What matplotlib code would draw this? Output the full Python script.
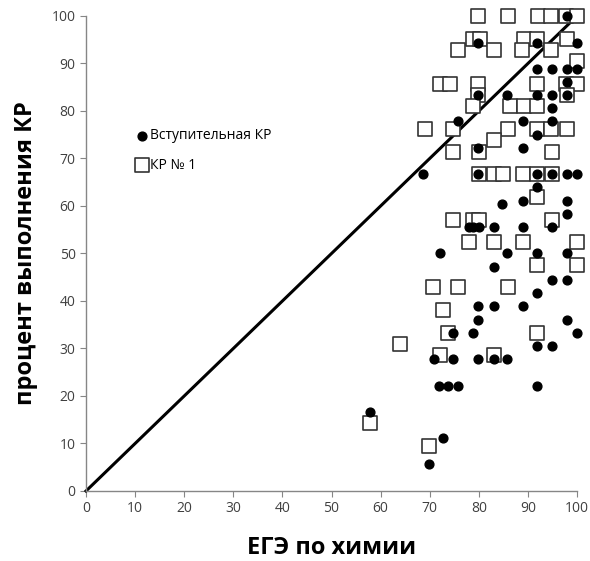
import matplotlib
matplotlib.use('Agg')
import matplotlib.pyplot as plt

plt.rcParams['font.family'] = ['Open Sans', 'DejaVu Sans']

# Вступительная КР (circles)
entry_x = [97.9, 79.8, 91.8, 99.9,
           91.8, 95.0, 97.9, 99.9,
           97.9,
           79.8, 85.7, 91.8, 95.0, 97.9,
           95.0,
           75.8, 88.9, 95.0,
           91.8,
           79.8, 88.9,
           68.7, 79.8, 91.8, 95.0, 97.9, 99.9,
           91.8,
           88.9, 84.8, 97.9,
           97.9,
           77.9, 78.9, 80.0, 83.0, 88.9, 95.0,
           72.0, 85.7, 91.8, 97.9,
           83.0,
           95.0, 97.9,
           91.8,
           79.8, 83.0, 88.9,
           79.8, 97.9,
           74.8, 78.9, 99.9,
           91.8, 95.0,
           70.9, 74.8, 79.8, 83.0, 85.7,
           71.8, 73.8, 75.7, 91.9,
           57.8, 72.8, 69.9]
entry_y = [100.0, 94.4, 94.4, 94.4,
           88.9, 88.9, 88.9, 88.9,
           86.1,
           83.3, 83.3, 83.3, 83.3, 83.3,
           80.6,
           77.8, 77.8, 77.8,
           75.0,
           72.2, 72.2,
           66.7, 66.7, 66.7, 66.7, 66.7, 66.7,
           63.9,
           61.1, 60.4, 61.1,
           58.3,
           55.6, 55.6, 55.6, 55.6, 55.6, 55.6,
           50.0, 50.0, 50.0, 50.0,
           47.2,
           44.4, 44.4,
           41.7,
           38.9, 38.9, 38.9,
           36.1, 36.1,
           33.3, 33.3, 33.3,
           30.6, 30.6,
           27.8, 27.8, 27.8, 27.8, 27.8,
           22.2, 22.2, 22.2, 22.2,
           16.7, 11.1, 5.6]

# КР № 1 (squares)
kr1_x = [79.9, 85.9, 92.0, 94.8, 97.7, 100.0,
         78.9, 80.2, 89.1, 91.8, 97.9,
         75.8, 83.0, 88.7, 94.8,
         99.9,
         72.1, 74.1, 79.9, 91.9, 97.7, 99.9,
         79.9, 97.9,
         78.9, 86.3, 89.2, 91.8,
         69.0, 74.8, 86.0, 91.8, 94.8, 97.9,
         83.0,
         74.8, 80.0, 95.0,
         80.0, 83.0, 85.0, 88.9, 91.8, 95.0,
         91.8,
         74.8, 78.9, 80.0, 95.0,
         77.9, 83.0, 88.9, 99.9,
         91.8, 99.9,
         70.7, 75.8, 85.9,
         72.8,
         73.8, 91.8,
         64.0,
         72.0, 83.0,
         57.8, 69.9]
kr1_y = [100.0, 100.0, 100.0, 100.0, 100.0, 100.0,
         95.2, 95.2, 95.2, 95.2, 95.2,
         92.9, 92.9, 92.9, 92.9,
         90.5,
         85.7, 85.7, 85.7, 85.7, 85.7, 85.7,
         83.3, 83.3,
         81.0, 81.0, 81.0, 81.0,
         76.2, 76.2, 76.2, 76.2, 76.2, 76.2,
         73.8,
         71.4, 71.4, 71.4,
         66.7, 66.7, 66.7, 66.7, 66.7, 66.7,
         61.9,
         57.1, 57.1, 57.1, 57.1,
         52.4, 52.4, 52.4, 52.4,
         47.6, 47.6,
         42.9, 42.9, 42.9,
         38.1,
         33.3, 33.3,
         31.0,
         28.6, 28.6,
         14.3, 9.5]

line_x = [0, 100]
line_y = [0, 100]

fig = plt.figure(figsize=(5.9, 5.61), dpi=100)
ax = fig.add_axes([0.1458, 0.1248, 0.8322, 0.8467])

ax.plot(line_x, line_y, color='black', linewidth=2.2, zorder=2, clip_on=False)
ax.scatter(kr1_x, kr1_y, marker='s', s=90, facecolor='white',
           edgecolor='#333333', linewidth=1.2, zorder=3, label='КР № 1',
           clip_on=False)
ax.scatter(entry_x, entry_y, marker='o', s=40, color='black',
           zorder=4, label='Вступительная КР', clip_on=False)

ax.set_xlim(0, 100)
ax.set_ylim(0, 100)
ax.set_xticks(range(0, 101, 10))
ax.set_yticks(range(0, 101, 10))
for side in ['top', 'right']:
    ax.spines[side].set_visible(False)
for side in ['left', 'bottom']:
    ax.spines[side].set_color('#868686')
    ax.spines[side].set_linewidth(1.0)
ax.tick_params(direction='out', length=4, color='#868686', labelsize=10,
               labelcolor='#404040')

ax.set_xlabel('ЕГЭ по химии', fontsize=17, fontweight='bold', labelpad=14)
ax.set_ylabel('процент выполнения КР', fontsize=17, fontweight='bold', labelpad=10)

handles, labels = ax.get_legend_handles_labels()
ax.legend(handles[::-1], labels[::-1], loc='upper left',
          bbox_to_anchor=(0.08, 0.79), frameon=False, fontsize=10,
          handlelength=0.6, handletextpad=0.3, labelspacing=1.05,
          scatterpoints=1)

fig.savefig('out.png', dpi=100)
